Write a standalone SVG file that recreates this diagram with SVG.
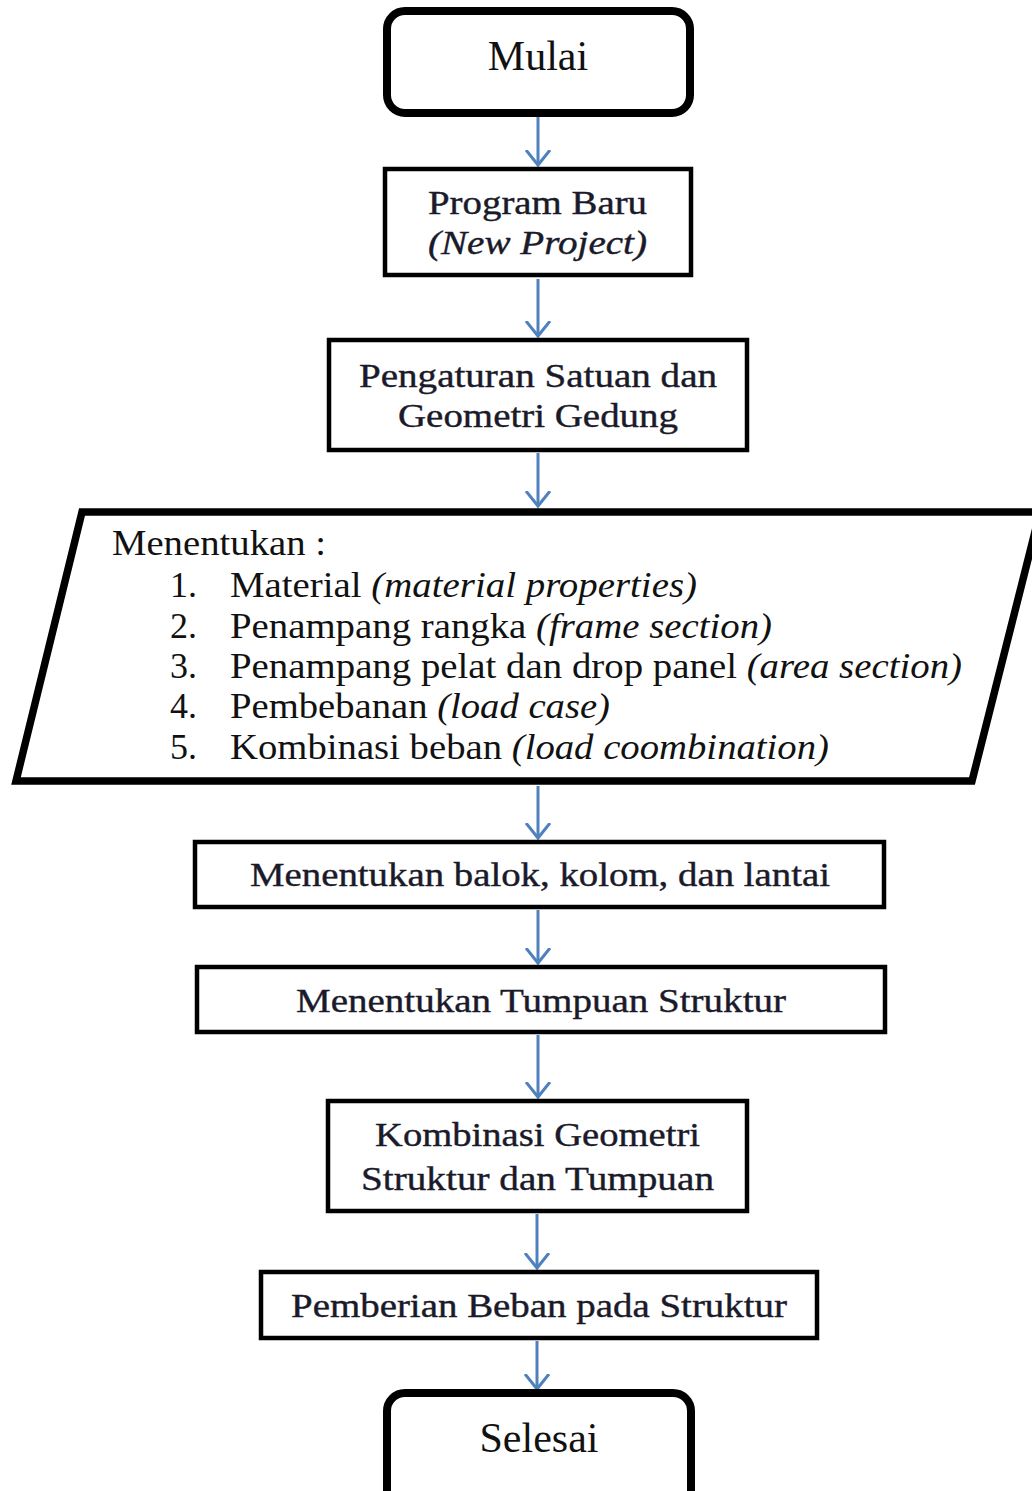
<svg xmlns="http://www.w3.org/2000/svg" width="1032" height="1491" viewBox="0 0 1032 1491">
<style>
.term{fill:#fff;stroke:#000;stroke-width:8}
.box{fill:#fff;stroke:#000;stroke-width:4.5}
.io{fill:#fff;stroke:#000;stroke-width:7.5;stroke-linejoin:miter}
.t{font-family:'Liberation Serif','Times New Roman',serif;fill:#111}
.pt{font-family:'Liberation Serif','Times New Roman',serif;fill:#111;font-size:36px}
.bt{font-family:'Liberation Serif','Times New Roman',serif;fill:#1a1a2a;stroke:#1a1a2a;stroke-width:0.4;font-size:34px}
.conn{stroke:#4f81bd;stroke-width:3;fill:none}
.it{font-style:italic}
</style>
<defs>
<marker id="arr" markerUnits="userSpaceOnUse" markerWidth="30" markerHeight="30" refX="15" refY="15" orient="auto" viewBox="0 0 30 30">
<path d="M0,3 L15,15 L0,27" fill="none" stroke="#4f81bd" stroke-width="3"/>
</marker>
</defs>
<rect width="1032" height="1491" fill="#fff"/>
<g id="connectors">
<line class="conn" x1="538" y1="117" x2="538" y2="165" marker-end="url(#arr)"/>
<line class="conn" x1="538" y1="279" x2="538" y2="336" marker-end="url(#arr)"/>
<line class="conn" x1="538" y1="453" x2="538" y2="506" marker-end="url(#arr)"/>
<line class="conn" x1="538" y1="786" x2="538" y2="838" marker-end="url(#arr)"/>
<line class="conn" x1="538" y1="910" x2="538" y2="963" marker-end="url(#arr)"/>
<line class="conn" x1="538" y1="1035" x2="538" y2="1097" marker-end="url(#arr)"/>
<line class="conn" x1="537" y1="1214" x2="537" y2="1268" marker-end="url(#arr)"/>
<line class="conn" x1="537" y1="1341" x2="537" y2="1389" marker-end="url(#arr)"/>
</g>
<g id="mulai">
<rect class="term" x="387" y="11" width="303" height="102" rx="18"/>
<text class="t" x="538" y="70" font-size="42" text-anchor="middle">Mulai</text>
</g>
<g id="program-baru">
<rect class="box" x="385" y="169" width="306" height="106"/>
<text class="bt" x="428" y="214" textLength="219" lengthAdjust="spacingAndGlyphs">Program Baru</text>
<text class="bt it" x="428" y="254" textLength="219" lengthAdjust="spacingAndGlyphs">(New Project)</text>
</g>
<g id="pengaturan">
<rect class="box" x="329" y="340" width="418" height="110"/>
<text class="bt" x="359" y="387" textLength="358" lengthAdjust="spacingAndGlyphs">Pengaturan Satuan dan</text>
<text class="bt" x="398" y="427" textLength="280" lengthAdjust="spacingAndGlyphs">Geometri Gedung</text>
</g>
<g id="menentukan-input">
<polygon class="io" points="82,512 1040,512 972,781 16,781"/>
<text class="pt" x="112" y="555" textLength="214" lengthAdjust="spacingAndGlyphs">Menentukan :</text>
<text class="pt" x="170" y="597">1.</text>
<text class="pt" x="230" y="597" textLength="467" lengthAdjust="spacingAndGlyphs">Material <tspan class="it">(material properties)</tspan></text>
<text class="pt" x="170" y="638">2.</text>
<text class="pt" x="230" y="638" textLength="542" lengthAdjust="spacingAndGlyphs">Penampang rangka <tspan class="it">(frame section)</tspan></text>
<text class="pt" x="170" y="678">3.</text>
<text class="pt" x="230" y="678" textLength="732" lengthAdjust="spacingAndGlyphs">Penampang pelat dan drop panel <tspan class="it">(area section)</tspan></text>
<text class="pt" x="170" y="718">4.</text>
<text class="pt" x="230" y="718" textLength="380" lengthAdjust="spacingAndGlyphs">Pembebanan <tspan class="it">(load case)</tspan></text>
<text class="pt" x="170" y="759">5.</text>
<text class="pt" x="230" y="759" textLength="599" lengthAdjust="spacingAndGlyphs">Kombinasi beban <tspan class="it">(load coombination)</tspan></text>
</g>
<g id="balok-kolom-lantai">
<rect class="box" x="195" y="842" width="689" height="65"/>
<text class="bt" x="250" y="886" textLength="580" lengthAdjust="spacingAndGlyphs">Menentukan balok, kolom, dan lantai</text>
</g>
<g id="tumpuan">
<rect class="box" x="197" y="967" width="688" height="65"/>
<text class="bt" x="296" y="1012" textLength="490" lengthAdjust="spacingAndGlyphs">Menentukan Tumpuan Struktur</text>
</g>
<g id="kombinasi">
<rect class="box" x="328" y="1101" width="419" height="110"/>
<text class="bt" x="375" y="1146" textLength="325" lengthAdjust="spacingAndGlyphs">Kombinasi Geometri</text>
<text class="bt" x="361" y="1190" textLength="353" lengthAdjust="spacingAndGlyphs">Struktur dan Tumpuan</text>
</g>
<g id="pemberian-beban">
<rect class="box" x="261" y="1272" width="556" height="66"/>
<text class="bt" x="291" y="1317" textLength="496" lengthAdjust="spacingAndGlyphs">Pemberian Beban pada Struktur</text>
</g>
<g id="selesai">
<rect class="term" x="387" y="1393" width="304" height="115" rx="18"/>
<text class="t" x="539" y="1452" font-size="42" text-anchor="middle">Selesai</text>
</g>
</svg>
